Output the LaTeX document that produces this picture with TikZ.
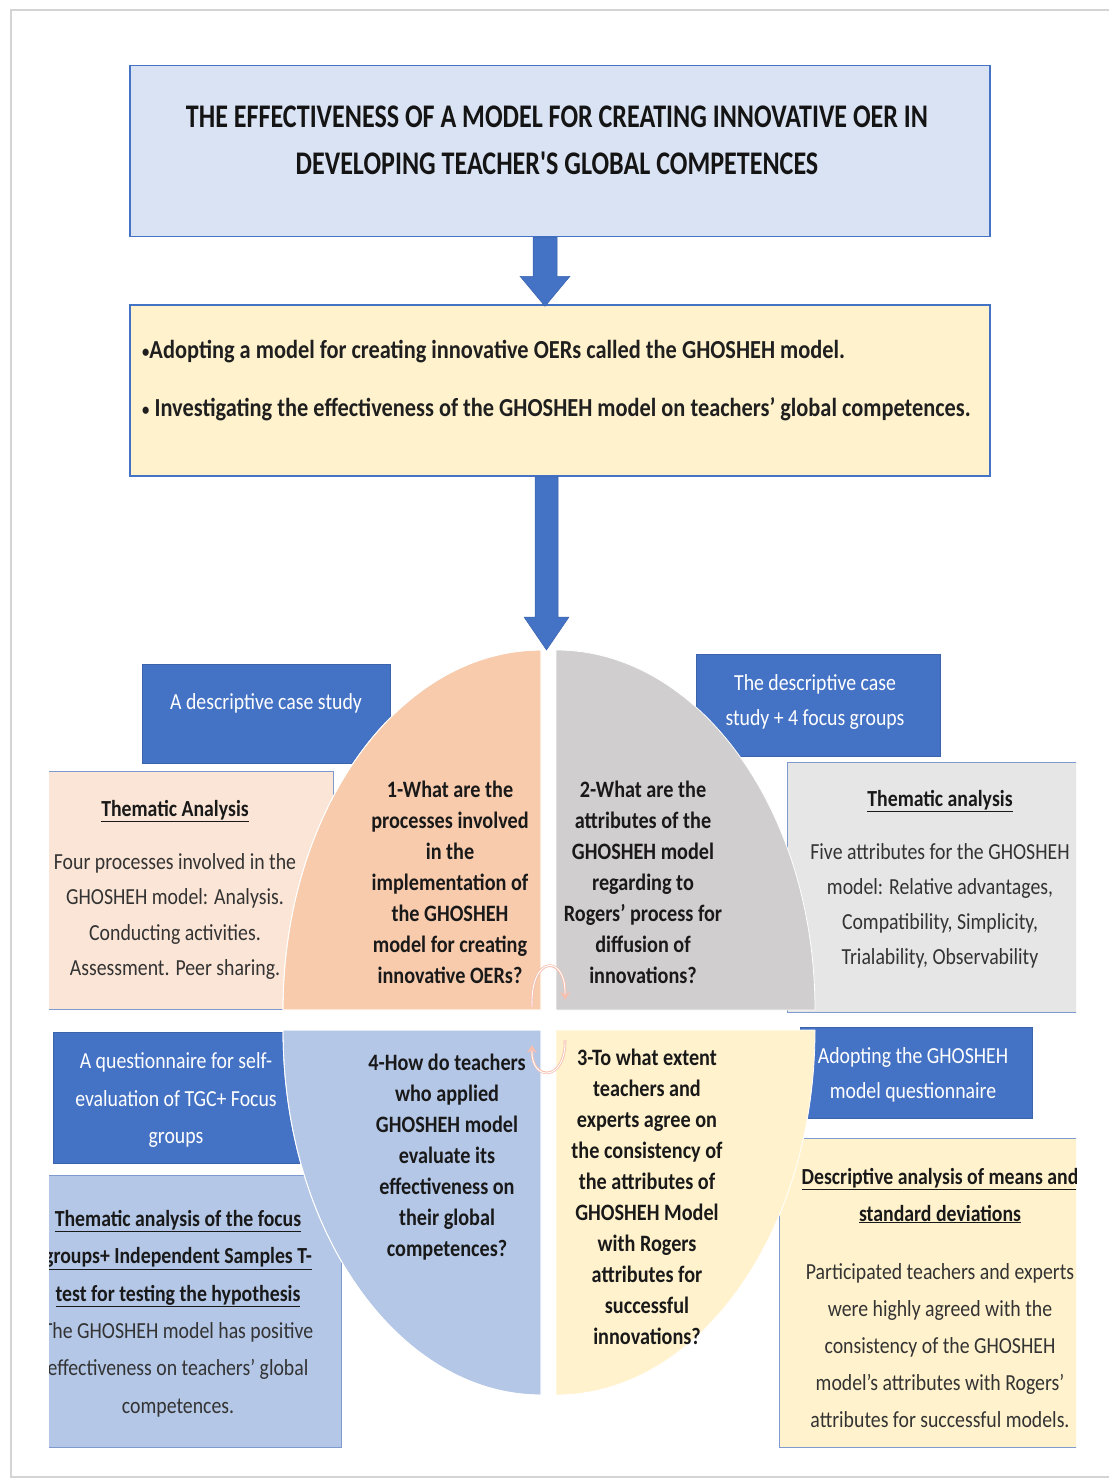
\documentclass[tikz,border=0pt]{standalone}
\usepackage{fontspec}
\setmainfont{Carlito}[FakeStretch=0.86]
\newfontfamily\headfont{Carlito}[FakeStretch=0.79]
\usetikzlibrary{calc,arrows.meta}
\definecolor{accent}{HTML}{4472C4}
\definecolor{accentline}{HTML}{3B64AD}
\definecolor{titlefill}{HTML}{DAE3F3}
\definecolor{aimfill}{HTML}{FFF2CC}
\definecolor{peachq}{HTML}{F8CBAD}
\definecolor{peachbox}{HTML}{FBE5D6}
\definecolor{grayq}{HTML}{D0CECE}
\definecolor{graybox}{HTML}{E7E6E6}
\definecolor{blueq}{HTML}{B4C7E7}
\definecolor{yellowq}{HTML}{FFF2CC}
\definecolor{boxedge}{HTML}{7F9ACF}
\definecolor{bodytext}{HTML}{333333}
\definecolor{cyclepink}{HTML}{F6BFB0}
\definecolor{pageedge}{HTML}{D4D4D4}
\newcommand{\aimbullet}{{\fontsize{17}{17}\selectfont\raisebox{1pt}{\textbullet}}}
\begin{document}
\begin{tikzpicture}[x=1pt,y=-1pt,
  headbox/.style={draw=accent, line width=1.5pt, minimum width=860, minimum height=171, inner sep=0pt},
  methodbox/.style={fill=accent, draw=accentline, line width=0.8pt, anchor=north west, inner sep=0pt},
  resultbox/.style={draw=boxedge, line width=1.2pt, anchor=north west, inner sep=0pt},
  methodtext/.style={text=white, align=center, font=\fontsize{23}{35}\selectfont, inner sep=0pt},
  resulttext/.style={text=bodytext, align=center, inner sep=0pt},
  question/.style={text=black!90, align=center, font=\bfseries\fontsize{23.5}{31}\selectfont, inner sep=0pt},
  quarter/.style={draw=white, line width=0.8pt},
  blockarrow/.style={fill=accent, draw=accentline, line width=0.5pt},
  cyclearrow/.style={draw=cyclepink, line width=2.6pt, -{Stealth[length=8pt,width=10pt]}},
  cycleinner/.style={draw=white, line width=0.9pt},
]
\useasboundingbox (0,0) rectangle (1109,1479);
\fill[white] (0,0) rectangle (1109,1479);

% page edge
\draw[pageedge, line width=2pt] (1109,10) -- (11,10) -- (11,1477) -- (1109,1477);

% heading and aims
\node[headbox, fill=titlefill] (title) at (560,151) {};
\node[font=\headfont\bfseries\fontsize{33}{47}\selectfont, align=center, inner sep=0pt, text=black!92] (titletext) at (557,140)
  {THE EFFECTIVENESS OF A MODEL FOR CREATING INNOVATIVE OER IN\\DEVELOPING TEACHER'S GLOBAL COMPETENCES};

\node[headbox, fill=aimfill] (aims) at (560,390.5) {};
\node[anchor=west, align=left, font=\bfseries\fontsize{26}{58}\selectfont, text=black!88, inner sep=0pt] (aimtext) at (142,381)
  {\aimbullet Adopting a model for creating innovative OERs called the GHOSHEH model.\\
   \aimbullet\ Investigating the effectiveness of the GHOSHEH model on teachers’ global competences.};

% block arrows
\path (title.south) ++(-15,0) coordinate (a1top);
\path (aims.north) ++(-15,2) coordinate (a1tip);
\fill[blockarrow] ($(a1top)+(-12,0)$) -- ($(a1top)+(12,0)$) -- ($(a1tip)+(12,-30)$) -- ($(a1tip)+(25,-30)$)
  -- (a1tip) -- ($(a1tip)+(-25,-30)$) -- ($(a1tip)+(-12,-30)$) -- cycle;

\coordinate (hub) at (548,1020);
\path (aims.south) ++(-13.5,0) coordinate (a2top);
\coordinate (a2tip) at ($(hub)+(-1.5,-370)$);
\fill[blockarrow] ($(a2top)+(-11.5,0)$) -- ($(a2top)+(11.5,0)$) -- ($(a2tip)+(11.5,-33)$) -- ($(a2tip)+(22.5,-33)$)
  -- (a2tip) -- ($(a2tip)+(-22.5,-33)$) -- ($(a2tip)+(-11.5,-33)$) -- cycle;

\begin{scope}
\clip (49,0) rectangle (1076,1479);

% method and result boxes, upper left
\node[methodbox, minimum width=248, minimum height=99] (m1) at (142,664) {};
\node[methodtext] (m1text) at (266,703) {A descriptive case study};
\node[resultbox, fill=peachbox, minimum width=293, minimum height=238] (r1) at (40,771) {};
\node[resulttext, font=\fontsize{23}{35.5}\selectfont] (r1text) at (175,890)
  {\textcolor{black!90}{\bfseries\underline{Thematic Analysis}}\\[17pt]
   Four processes involved in the\\GHOSHEH model: Analysis.\\Conducting activities.\\Assessment. Peer sharing.};

% upper right
\node[methodbox, minimum width=244, minimum height=102] (m2) at (696,654) {};
\node[methodtext] (m2text) at (815,702) {The descriptive case\\study + 4 focus groups};
\node[resultbox, fill=graybox, minimum width=303, minimum height=250] (r2) at (787,762) {};
\node[resulttext, font=\fontsize{23}{35}\selectfont] (r2text) at (940,879)
  {\textcolor{black!90}{\bfseries\underline{Thematic analysis}}\\[18pt]
   Five attributes for the GHOSHEH\\model: Relative advantages,\\Compatibility, Simplicity,\\Trialability, Observability};

% lower left
\node[methodbox, minimum width=257, minimum height=131] (m4) at (53,1032) {};
\node[methodtext, font=\fontsize{23}{37.5}\selectfont] (m4text) at (176,1100) {A questionnaire for self-\\evaluation of TGC+ Focus\\groups};
\node[resultbox, fill=blueq, minimum width=301, minimum height=272] (r4) at (40,1175) {};
\node[resulttext, font=\fontsize{23}{37.4}\selectfont] (r4text) at (178,1313.5)
  {\textcolor{black!90}{\bfseries\underline{Thematic analysis of the focus}}\\
   \textcolor{black!90}{\bfseries\underline{groups+ Independent Samples T-}}\\
   \textcolor{black!90}{\bfseries\underline{test for testing the hypothesis}}\\
   The GHOSHEH model has positive\\effectiveness on teachers' global\\competences.};

% lower right
\node[methodbox, minimum width=232, minimum height=91] (m3) at (800,1027) {};
\node[methodtext] (m3text) at (913,1075) {Adopting the GHOSHEH\\model questionnaire};
\node[resultbox, fill=aimfill, minimum width=311, minimum height=309] (r3) at (779,1138) {};
\node[resulttext, font=\fontsize{23}{37}\selectfont] (r3text) at (940,1297.5)
  {\textcolor{black!90}{\bfseries\underline{Descriptive analysis of means and}}\\
   \textcolor{black!90}{\bfseries\underline{standard deviations}}\\[21pt]
   Participated teachers and experts\\were highly agreed with the\\consistency of the GHOSHEH\\model's attributes with Rogers'\\attributes for successful models.};

% the four quarters around the hub
\fill[quarter, fill=peachq] (541,1010) -- (283,1010) .. controls (283,811.2) and (398.5,650) .. (541,650) -- cycle;
\fill[quarter, fill=grayq] (556,1010) -- (556,650) .. controls (699,650) and (815,811.2) .. (815,1010) -- cycle;
\fill[quarter, fill=blueq] (541,1030) -- (283,1030) .. controls (283,1231.6) and (398.5,1395) .. (541,1395) -- cycle;
\fill[quarter, fill=yellowq] (556,1030) -- (815,1030) .. controls (815,1231.6) and (699,1395) .. (556,1395) -- cycle;
\draw[quarter] (541,1010) -- (283,1010) .. controls (283,811.2) and (398.5,650) .. (541,650) -- cycle;
\draw[quarter] (541,1030) -- (283,1030) .. controls (283,1231.6) and (398.5,1395) .. (541,1395) -- cycle;
\end{scope}

% research questions
\node[question] (q1) at (450,882.5) {1-What are the\\processes involved\\in the\\implementation of\\the GHOSHEH\\model for creating\\innovative OERs?};
\node[question] (q2) at (643,882) {2-What are the\\attributes of the\\GHOSHEH model\\regarding to\\Rogers’ process for\\diffusion of\\innovations?};
\node[question] (q4) at (447,1157.5) {4-How do teachers\\who applied\\GHOSHEH model\\evaluate its\\effectiveness on\\their global\\competences?};
\node[question] (q3) at (647,1196.5) {3-To what extent\\teachers and\\experts agree on\\the consistency of\\the attributes of\\GHOSHEH Model\\with Rogers\\attributes for\\successful\\innovations?};

% cycle arrows in the centre
\coordinate (c1s) at ($(hub)+(-16,-13)$);
\coordinate (c1e) at ($(hub)+(17,-20)$);
\coordinate (c2s) at ($(hub)+(17,20)$);
\coordinate (c2e) at ($(hub)+(-16,25)$);
\draw[cyclearrow] (c1s) .. controls ($(hub)+(-18,-66)$) and ($(hub)+(18,-66)$) .. (c1e);
\draw[cycleinner] (c1s) .. controls ($(hub)+(-18,-66)$) and ($(hub)+(18,-66)$) .. ($(c1e)+(0,-6)$);
\draw[cyclearrow] (c2s) .. controls ($(hub)+(18,62)$) and ($(hub)+(-17,62)$) .. (c2e);
\draw[cycleinner] (c2s) .. controls ($(hub)+(18,62)$) and ($(hub)+(-17,62)$) .. ($(c2e)+(0,6)$);
\end{tikzpicture}
\end{document}
